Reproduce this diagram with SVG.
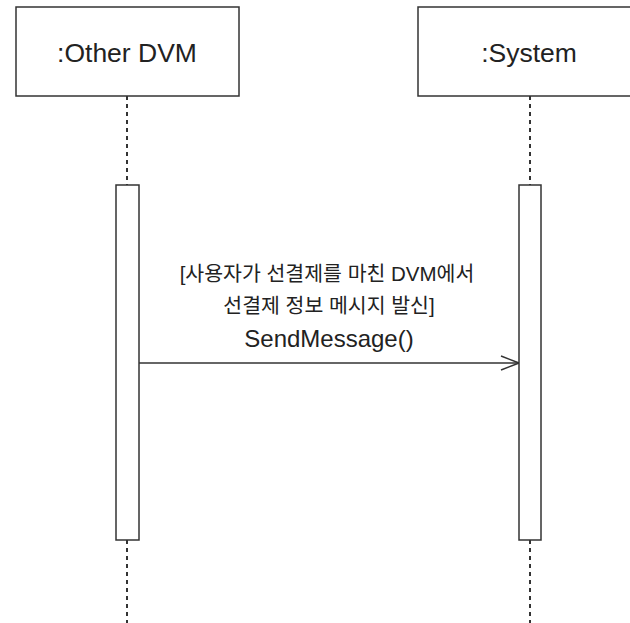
<svg xmlns="http://www.w3.org/2000/svg" width="630" height="623" viewBox="0 0 630 623">
<style>
.box{fill:#fff;stroke:#333;stroke-width:1.5}
.life{stroke:#333;stroke-width:2;stroke-dasharray:4 4;fill:none}
.t{font-family:"Liberation Sans","Noto Sans CJK KR",sans-serif;fill:#222;text-anchor:middle}
.msg{stroke:#333;stroke-width:1.5;fill:none}
</style>
<defs>
<marker id="open" markerWidth="20" markerHeight="20" refX="19" refY="8" orient="auto" markerUnits="userSpaceOnUse">
<path d="M1,1 L19,8 L1,15" fill="none" stroke="#333" stroke-width="1.5"/>
</marker>
</defs>
<g id="connectors">
<line class="life" x1="127" y1="96" x2="127" y2="185"/>
<line class="life" x1="127" y1="540" x2="127" y2="623"/>
<line class="life" x1="530" y1="96" x2="530" y2="185"/>
<line class="life" x1="530" y1="540" x2="530" y2="623"/>
<line class="msg" x1="139" y1="363" x2="519" y2="363" marker-end="url(#open)"/>
<text class="t" x="327" y="281" font-size="20.5">[사용자가 선결제를 마친 DVM에서</text>
<text class="t" x="329" y="313" font-size="20.5">선결제 정보 메시지 발신]</text>
<text class="t" x="329" y="347" font-size="24">SendMessage()</text>
</g>
<g id="other-dvm">
<rect class="box" x="16" y="7" width="223" height="89"/>
<text class="t" x="127" y="62" font-size="26.5">:Other DVM</text>
</g>
<g id="system">
<rect class="box" x="418" y="7" width="223" height="89"/>
<text class="t" x="529" y="62" font-size="26.5">:System</text>
</g>
<g id="act-other">
<rect class="box" x="116" y="185" width="23" height="355"/>
</g>
<g id="act-system">
<rect class="box" x="519" y="185" width="22" height="355"/>
</g>
</svg>
